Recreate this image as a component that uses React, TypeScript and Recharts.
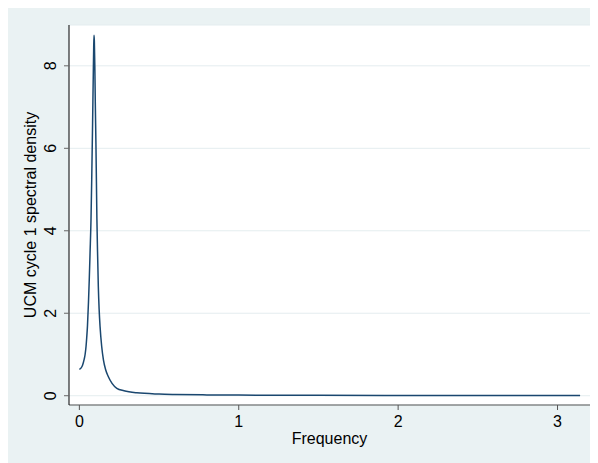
import { LineChart, Line, XAxis, YAxis, CartesianGrid } from 'recharts';

// values
const frequency = [
  0, 0.01, 0.02, 0.03, 0.036, 0.042, 0.046, 0.051, 0.057, 0.062, 0.067, 0.073, 0.078, 0.083, 0.087, 0.09, 0.092,
  0.094, 0.097, 0.1, 0.104, 0.107, 0.11, 0.114, 0.119, 0.124, 0.13, 0.14, 0.151, 0.165, 0.182, 0.205, 0.235, 0.28,
  0.36, 0.5, 0.6, 0.8, 1.0, 1.5, 2.0, 2.5, 3.1416,
];
const density = [
  0.64, 0.67, 0.74, 0.88, 1.0, 1.2, 1.4, 1.7, 2.25, 2.8, 3.45, 4.26, 5.35, 6.6, 7.7, 8.45, 8.74,
  8.6, 8.0, 7.1, 6.1, 5.2, 4.3, 3.5, 2.64, 2.1, 1.67, 1.2, 0.87, 0.63, 0.46, 0.3, 0.18, 0.12,
  0.07, 0.04, 0.03, 0.02, 0.015, 0.01, 0.008, 0.007, 0.006,
];
const xTicks = [0, 1, 2, 3];
const yTicks = [0, 2, 4, 6, 8];

const data = frequency.map((f, i) => ({ f, d: density[i] }));

const font = 'Arial, "Liberation Sans", sans-serif';

const YTick = (props: any) => {
  const { y, payload } = props;
  return (
    <text x={43} y={y} dy="0.36em" textAnchor="middle" transform={`rotate(-90, 43, ${y})`}
      fontSize={16} fontFamily={font} fill="#000">
      {payload.value}
    </text>
  );
};

const YTitle = () => (
  <text x={23} y={207} dy="0.36em" textAnchor="middle" transform="rotate(-90, 23, 207)"
    fontSize={16} fontFamily={font} fill="#000">
    UCM cycle 1 spectral density
  </text>
);

const XTitle = () => (
  <text x={322.5} y={436} textAnchor="middle" fontSize={16} fontFamily={font} fill="#000">
    Frequency
  </text>
);

export default function App() {
  return (
    <div style={{ marginLeft: -1, width: 591, height: 455, background: '#EAF2F3' }}>
      <LineChart width={591} height={455} data={data} margin={{ top: 17, right: 7, bottom: 0, left: 0 }}>
        <CartesianGrid vertical={false} stroke="#E4EDEF" fill="#ffffff" />
        <XAxis
          type="number"
          dataKey="f"
          domain={[-0.065, 3.21]}
          ticks={xTicks}
          allowDataOverflow
          height={58}
          tickSize={5}
          tickMargin={6}
          stroke="#555"
          tick={{ fill: '#000', fontSize: 16, fontFamily: font }}
          label={<XTitle />}
        />
        <YAxis
          type="number"
          domain={[-0.225, 8.99]}
          ticks={yTicks}
          allowDataOverflow
          width={62}
          tickSize={5}
          axisLine={{ stroke: '#000' }}
          tickLine={{ stroke: '#666' }}
          tick={<YTick />}
          label={<YTitle />}
        />
        <Line type="monotone" dataKey="d" stroke="#1A476F" strokeWidth={1.5} dot={false} isAnimationActive={false} />
      </LineChart>
    </div>
  );
}
